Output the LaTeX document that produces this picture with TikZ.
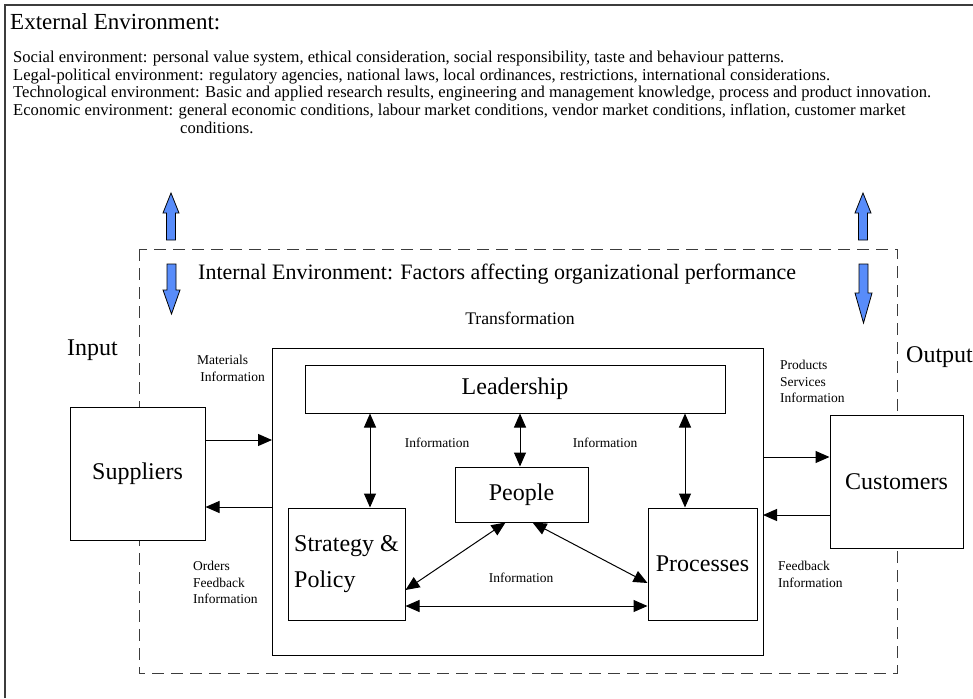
\documentclass[tikz,border=0pt]{standalone}
\usepackage{fontspec}
\setmainfont{Liberation Serif}
\usetikzlibrary{arrows.meta}

\definecolor{envblue}{RGB}{88,140,250}
\definecolor{linegray}{RGB}{60,60,60}

\tikzset{
	box/.style={draw, fill=white, line width=1pt, inner sep=0pt, font=\fontsize{24}{30}\selectfont},
	small/.style={font=\fontsize{13.5}{16.5}\selectfont, align=left, inner sep=0pt},
	envtext/.style={font=\fontsize{16.6}{17.5}\selectfont, anchor=base west, inner sep=0pt},
	big/.style={font=\fontsize{24}{28}\selectfont, inner sep=0pt},
	link/.style={line width=1pt, -{Triangle[length=14pt,width=12pt]}},
	both/.style={line width=1pt, {Triangle[length=14pt,width=12pt]}-{Triangle[length=14pt,width=12pt]}},
	envarrow/.style={draw=black, fill=envblue, line width=0.8pt},
}

\begin{document}
\begin{tikzpicture}[x=1pt, y=-1pt]
	\useasboundingbox (0,0) rectangle (973,698);

	% Outer frame (external environment)
	\draw[linegray, line width=1.5pt] (5,698) -- (5,5) -- (973,5);

	% External environment texts
	\node[font=\fontsize{23}{26}\selectfont, anchor=base west, inner sep=0pt] (ext) at (10,30) {External Environment:};
	\node[envtext] (soc) at (13,63) {Social environment: personal value system, ethical consideration, social responsibility, taste and behaviour patterns.};
	\node[envtext] (leg) at (13,80.5) {Legal-political environment: regulatory agencies, national laws, local ordinances, restrictions, international considerations.};
	\node[envtext] (tec) at (13,98) {Technological environment: Basic and applied research results, engineering and management knowledge, process and product innovation.};
	\node[envtext] (eco) at (13,115.5) {Economic environment: general economic conditions, labour market conditions, vendor market conditions, inflation, customer market};
	\node[envtext] (eco2) at (180,133) {conditions.};

	% Internal environment boundary
	\draw[linegray, line width=1pt, dash pattern=on 12pt off 7pt] (139,249) rectangle (897,673);

	% Blue arrows between the environments
	% left
	\draw[envarrow] (166.5,240) -- (166.5,213) -- (163,213) -- (171,193) -- (179,213) -- (175.5,213) -- (175.5,240) -- cycle;
	\draw[envarrow] (167,264) -- (176,264) -- (176,290) -- (180,290) -- (171.5,314) -- (163,290) -- (167,290) -- cycle;
	% right
	\draw[envarrow] (858.5,240) -- (858.5,213) -- (855,213) -- (863,193) -- (871,213) -- (867.5,213) -- (867.5,240) -- cycle;
	\draw[envarrow] (859,264) -- (868,264) -- (868,293) -- (872,293) -- (863.5,323) -- (855,293) -- (859,293) -- cycle;

	\node[font=\fontsize{22}{26}\selectfont, anchor=west, inner sep=0pt] (int) at (198,274) {Internal Environment: Factors affecting organizational performance};
	\node[font=\fontsize{17.7}{20}\selectfont, inner sep=0pt] (tra) at (520,318) {Transformation};
	\node[big, anchor=west] (in) at (67,350) {Input};
	\node[big, anchor=west] (out) at (906,357) {Output};

	% Boxes
	\draw[line width=1pt] (272,348) rectangle (763,655);
	\node[box, minimum width=135pt, minimum height=133pt] (sup) at (137.5,473.5) {Suppliers};
	\node[box, minimum width=133pt, minimum height=133pt] (cust) at (896.5,481.5) {Customers};
	\node[box, minimum width=420pt, minimum height=48pt] (lead) at (515,389) {Leadership};
	\node[box, minimum width=133pt, minimum height=55pt] (peop) at (521.5,494.5) {People};
	\node[box, minimum width=117pt, minimum height=112pt, align=left, font=\fontsize{24}{36}\selectfont] (strat) at (346.5,564) {Strategy \&\\Policy};
	\node[box, minimum width=109pt, minimum height=112pt] (proc) at (702.5,564) {Processes};

	% Flows with the outside
	\coordinate (tl) at (272,440);
	\coordinate (tr) at (763,457);
	\draw[link] ([yshift=33.5pt]sup.east) -- (tl);
	\draw[link] (tl |- 0,507) -- ([yshift=-33.5pt]sup.east);
	\draw[link] (tr) -- ([yshift=24.5pt]cust.west);
	\draw[link] ([yshift=-33.5pt]cust.west) -- (tr |- 0,515);

	% Information flows inside
	\draw[both] ([xshift=23.5pt]strat.north) -- ([xshift=23.5pt]strat.north |- lead.south);
	\draw[both] (peop.north -| 520,0) -- (lead.south -| 520,0);
	\draw[both] ([xshift=-17.5pt]proc.north) -- ([xshift=-17.5pt]proc.north |- lead.south);
	\draw[both] ([xshift=-16pt]peop.south) -- ([yshift=-26pt]strat.east);
	\draw[both] ([xshift=11pt]peop.south) -- ([yshift=-19pt]proc.west);
	\draw[both] ([yshift=-42pt]strat.east) -- ([yshift=-42pt]strat.east -| proc.west);

	% Labels
	\node[small] (inf1) at (437,443) {Information};
	\node[small] (inf2) at (605,443) {Information};
	\node[small] (inf3) at (521,578) {Information};
	\node[small] (mat) at (231,368.5) {Materials\\\ Information};
	\node[small, anchor=north west] (prod) at (780,360) {Products\\Services\\Information};
	\node[small, anchor=north west] (ord) at (193,561) {Orders\\Feedback\\Information};
	\node[small, anchor=north west] (fb) at (778,561) {Feedback\\Information};
\end{tikzpicture}
\end{document}
